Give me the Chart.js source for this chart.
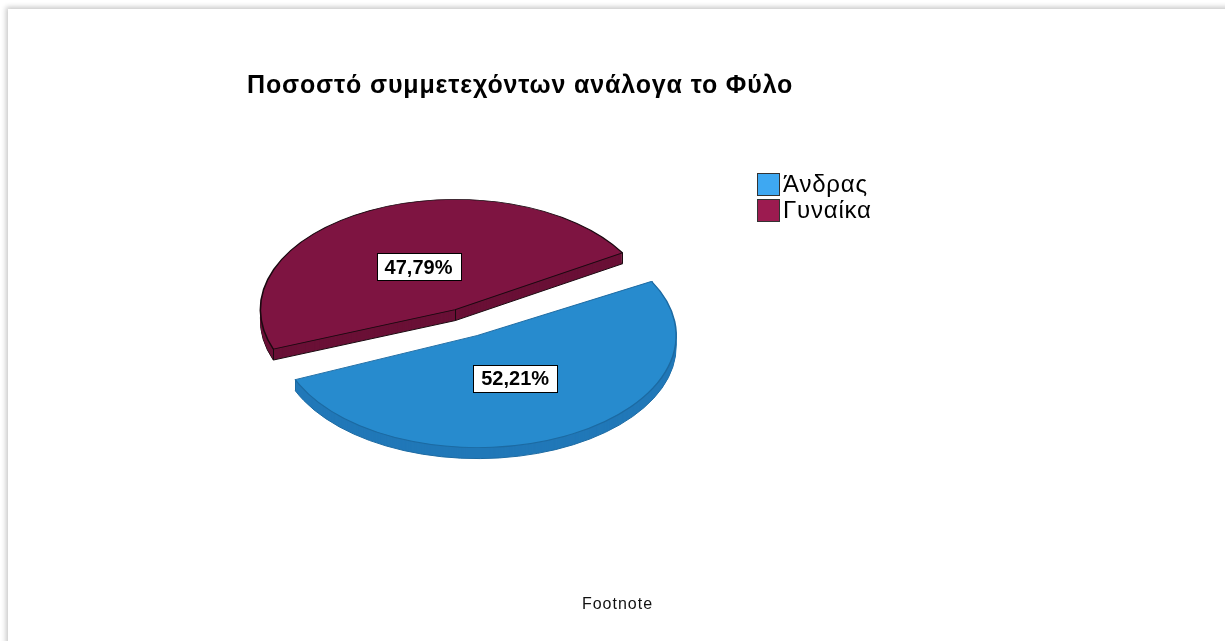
<!DOCTYPE html>
<html lang="el">
<head>
<meta charset="utf-8">
<title>Ποσοστό συμμετεχόντων ανάλογα το Φύλο</title>
<script src="https://cdn.jsdelivr.net/npm/chart.js@4.4.1/dist/chart.umd.min.js"></script>
<style>
  html, body { margin: 0; padding: 0; background: #fff; overflow: hidden; }
  body { width: 1225px; height: 641px; position: relative; font-family: "Liberation Sans", Arial, sans-serif; color: #000; }
  #sheet { position: absolute; left: 8px; top: 9px; width: 1240px; height: 660px; background: #fff; box-shadow: -2px -2px 5px rgba(0, 0, 0, 0.22); }
  #pie { position: absolute; left: 0; top: 0; }
  #title { position: absolute; left: 247px; top: 72px; font-size: 25px; line-height: 25px; letter-spacing: 0.85px; font-weight: bold; white-space: nowrap; }
  #legend { position: absolute; left: 757px; top: 171px; }
  .legend-row { display: flex; align-items: center; height: 26px; font-size: 24px; line-height: 26px; letter-spacing: 0.8px; white-space: nowrap; }
  .legend-box { width: 21px; height: 21px; border: 1px solid #333; margin-right: 3px; }
  #footnote { position: absolute; left: 0; width: 1235px; top: 596px; text-align: center; font-size: 16px; line-height: 16px; letter-spacing: 1px; color: #111; }
</style>
</head>
<body>
<div id="sheet"></div>
<canvas id="pie" width="1225" height="641"></canvas>
<div id="title"></div>
<div id="legend"></div>
<div id="footnote"></div>
<script>
// data
const categories = ['Άνδρας', 'Γυναίκα'];
const shares = [52.21, 47.79];
const titleText = 'Ποσοστό συμμετεχόντων ανάλογα το Φύλο';
const footnoteText = 'Footnote';

// colours per slice: top face, side wall, outline, legend swatch
const topColors = ['#278BCE', '#7E1441'];
const wallColors = ['#2178B8', '#6A1036'];
const edgeColors = ['#1C6AA2', '#1a0910'];
const swatchColors = ['#3EA8F2', '#9C1B50'];

const TILT = 0.565;      // vertical squash of the disc
const DEPTH = 11;        // disc thickness in px
const LABEL_POS = 0.43;  // label distance from slice tip, as part of radius

document.getElementById('title').textContent = titleText;
document.getElementById('footnote').textContent = footnoteText;
document.getElementById('legend').innerHTML = categories.map((c, i) => `
  <div class="legend-row"><span class="legend-box" style="background:${swatchColors[i]}"></span>${c}</div>
`).join('');

// same geometry ArcElement.draw uses for an exploded slice
function sliceGeometry(arc) {
  const shift = (arc.options.offset || 0) / 4;
  const half = (arc.startAngle + arc.endAngle) / 2;
  const fix = 1 - Math.sin(Math.min(Math.PI, arc.circumference || 0));
  const grow = shift * fix;
  const r = arc.outerRadius + grow;
  const alpha = arc.endAngle - arc.startAngle;
  const beta = Math.max(0.001, alpha * r - grow / Math.PI) / r;
  const trim = (alpha - beta) / 2;
  return {
    cx: arc.x + Math.cos(half) * shift,
    cy: arc.y + Math.sin(half) * shift,
    r: r,
    start: arc.startAngle + trim,
    end: arc.endAngle - trim,
    half: half,
    pivotY: arc.y
  };
}

function tilt(ctx, pivotY, dy) {
  ctx.translate(0, pivotY + dy);
  ctx.scale(1, TILT);
  ctx.translate(0, -pivotY);
}

function toScreenY(g, y) {
  return g.pivotY + (y - g.pivotY) * TILT;
}

const discPlugin = {
  id: 'disc',
  beforeDatasetsDraw(chart) {
    const ctx = chart.ctx;
    const arcs = chart.getDatasetMeta(0).data;

    // side walls: stacked copies of each slice pushed down
    arcs.forEach((arc, i) => {
      const g = sliceGeometry(arc);
      for (let d = DEPTH; d >= 1; d--) {
        ctx.save();
        tilt(ctx, g.pivotY, d);
        ctx.beginPath();
        ctx.moveTo(g.cx, g.cy);
        ctx.arc(g.cx, g.cy, g.r, g.start, g.end);
        ctx.closePath();
        ctx.restore();
        ctx.fillStyle = wallColors[i];
        ctx.fill();
        if (d === DEPTH) {
          ctx.strokeStyle = edgeColors[i];
          ctx.lineWidth = 1;
          ctx.stroke();
        }
      }
      // vertical edges at the slice corners
      const corners = [
        [g.cx, g.cy],
        [g.cx + Math.cos(g.start) * g.r, g.cy + Math.sin(g.start) * g.r],
        [g.cx + Math.cos(g.end) * g.r, g.cy + Math.sin(g.end) * g.r]
      ];
      ctx.strokeStyle = edgeColors[i];
      ctx.lineWidth = 1;
      corners.forEach(([px, py]) => {
        const sy = toScreenY(g, py);
        ctx.beginPath();
        ctx.moveTo(Math.round(px) + 0.5, sy);
        ctx.lineTo(Math.round(px) + 0.5, sy + DEPTH);
        ctx.stroke();
      });
    });

    // top faces are drawn by the chart inside this squashed space
    ctx.save();
    tilt(ctx, arcs[0].y, 0);
  },
  afterDatasetsDraw(chart) {
    const ctx = chart.ctx;
    ctx.restore();

    const arcs = chart.getDatasetMeta(0).data;
    ctx.font = 'bold 20px "Liberation Sans", Arial, sans-serif';
    ctx.textAlign = 'center';
    ctx.textBaseline = 'middle';
    arcs.forEach((arc, i) => {
      const g = sliceGeometry(arc);
      const lx = g.cx + Math.cos(g.half) * g.r * LABEL_POS;
      const ly = toScreenY(g, g.cy + Math.sin(g.half) * g.r * LABEL_POS);
      const text = shares[i].toFixed(2).replace('.', ',') + '%';
      const w = Math.round(ctx.measureText(text).width + 16);
      const h = 27;
      const bx = Math.round(lx - w / 2) + 0.5;
      const by = Math.round(ly - h / 2) + 0.5;
      ctx.fillStyle = '#fff';
      ctx.fillRect(bx, by, w, h);
      ctx.strokeStyle = '#000';
      ctx.lineWidth = 1;
      ctx.strokeRect(bx, by, w, h);
      ctx.fillStyle = '#000';
      ctx.fillText(text, lx, ly + 1);
    });
  }
};

new Chart(document.getElementById('pie'), {
  type: 'pie',
  data: {
    labels: categories,
    datasets: [{
      data: shares,
      backgroundColor: topColors,
      borderColor: edgeColors,
      borderWidth: 1.6,
      offset: 102,
      radius: 173,
      rotation: 60,
      clip: false
    }]
  },
  options: {
    responsive: false,
    animation: false,
    events: [],
    layout: { padding: { left: 0, right: 292, top: 4, bottom: 0 } },
    plugins: {
      legend: { display: false },
      tooltip: { enabled: false },
      title: { display: false }
    }
  },
  plugins: [discPlugin]
});
</script>
</body>
</html>
